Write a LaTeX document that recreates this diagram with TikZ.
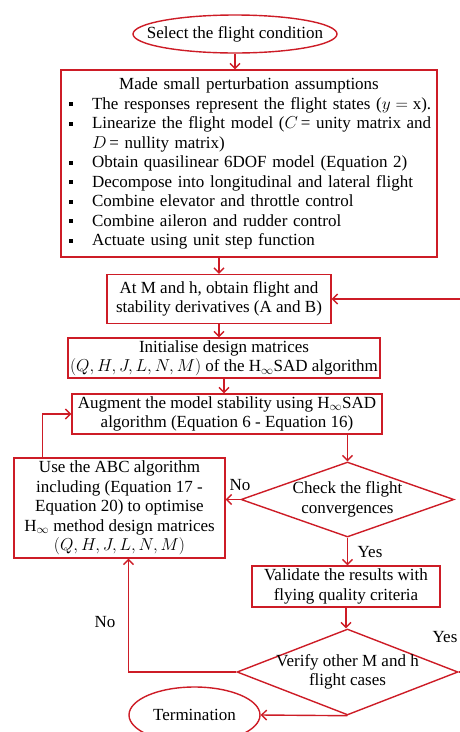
\documentclass[tikz,border=0pt]{standalone}
\usepackage{fontspec}
\setmainfont{Liberation Serif}
\usetikzlibrary{shapes.geometric,arrows.meta}
\definecolor{flowred}{RGB}{205,28,38}
\newcommand{\bitem}{\par\noindent\hangindent=29pt\hangafter=1\hspace*{6pt}\makebox[23pt][l]{\rule[3pt]{4pt}{4pt}}}
\newcommand{\Hinf}{H$_\infty$}

\begin{document}
\begin{tikzpicture}[x=1pt, y=-1pt,
    every node/.style={font=\fontsize{17}{19.5}\selectfont, text=black},
    flowline/.style={draw=flowred, line width=1.4pt},
    arrowline/.style={flowline, -{Straight Barb[length=5pt,width=10pt]}},
    blockbox/.style={draw=flowred, line width=1.4pt, rectangle, align=center, inner sep=2pt},
    terminal/.style={draw=flowred, line width=1.4pt, ellipse, inner xsep=-20pt, inner ysep=0pt},
    decision/.style={draw=flowred, line width=1.4pt, diamond, aspect=2.7, inner sep=-10pt, align=center}]
    \clip (0,0) rectangle (460,732);
    \node[terminal, minimum width=204pt, minimum height=38pt] (start) at (235,34) {Select the flight condition};
    \node[blockbox, align=left, text width=372pt, inner xsep=2pt, minimum height=187pt] (assume) at (249,163.5)
        {{\centering Made small perturbation assumptions\par}
        \bitem The responses represent the flight states ($y = \mathrm{x}$).
        \bitem Linearize the flight model ($C$\,= unity matrix and\newline$D$\,= nullity matrix)
        \bitem Obtain quasilinear 6DOF model (Equation 2)
        \bitem Decompose into longitudinal and lateral flight
        \bitem Combine elevator and throttle control
        \bitem Combine aileron and rudder control
        \bitem Actuate using unit step function};
    \node[blockbox, minimum width=224pt, minimum height=49pt] (deriv) at (219,299)
        {At M and h, obtain flight and\\stability derivatives (A and B)};
    \node[blockbox, minimum width=310pt, minimum height=40pt] (init) at (224,358)
        {Initialise design matrices\\$(Q,H,J,L,N,M)$ of the \Hinf SAD algorithm};
    \node[blockbox, minimum width=310pt, minimum height=40pt] (augment) at (227,414)
        {Augment the model stability using \Hinf SAD\\algorithm (Equation 6 - Equation 16)};
    \node[decision, minimum width=213pt, minimum height=75pt] (check) at (347.5,499.5)
        {Check the flight\\convergences};
    \node[blockbox, minimum width=211pt, minimum height=100pt] (abc) at (119.5,508)
        {Use the ABC algorithm\\including (Equation 17 -\\Equation 20) to optimise\\\Hinf{} method design matrices\\$(Q,H,J,L,N,M)$};
    \node[blockbox, minimum width=188pt, minimum height=41pt] (valid) at (346,586.5)
        {Validate the results with\\flying quality criteria};
    \node[decision, minimum width=221pt, minimum height=86pt] (verify) at (347.5,672)
        {Verify other M and h\\flight cases};
    \node[terminal, minimum width=131pt, minimum height=56pt] (term) at (194.5,715) {Termination};
    \coordinate (ret) at (463,0);
    \node (no1) at (240,485) {No};
    \node (yes1) at (370,552) {Yes};
    \node (no2) at (105,622) {No};
    \node (yes2) at (445,637) {Yes};

    \draw[arrowline] (start.south) -- (start.south |- assume.north);
    \draw[arrowline] (deriv.north |- assume.south) -- (deriv.north);
    \draw[arrowline] (deriv.south) -- (deriv.south |- init.north);
    \draw[arrowline] (init.south) -- (init.south |- augment.north);
    \draw[arrowline] (check.north |- augment.south) -- (check.north);
    \draw[arrowline] (check.west) -- (check.west -| abc.east);
    \draw[arrowline] ([xshift=29pt]abc.north west) |- (augment.west);
    \draw[arrowline] (check.south) -- (check.south |- valid.north);
    \draw[arrowline] (valid.south) -- (valid.south |- verify.north);
    \draw[arrowline] (verify.west) -| ([xshift=9pt]abc.south);
    \draw[arrowline] (verify.south) -- (term.east);
    \draw[arrowline] (verify.east) -| (ret |- deriv.east) -- (deriv.east);
\end{tikzpicture}
\end{document}
